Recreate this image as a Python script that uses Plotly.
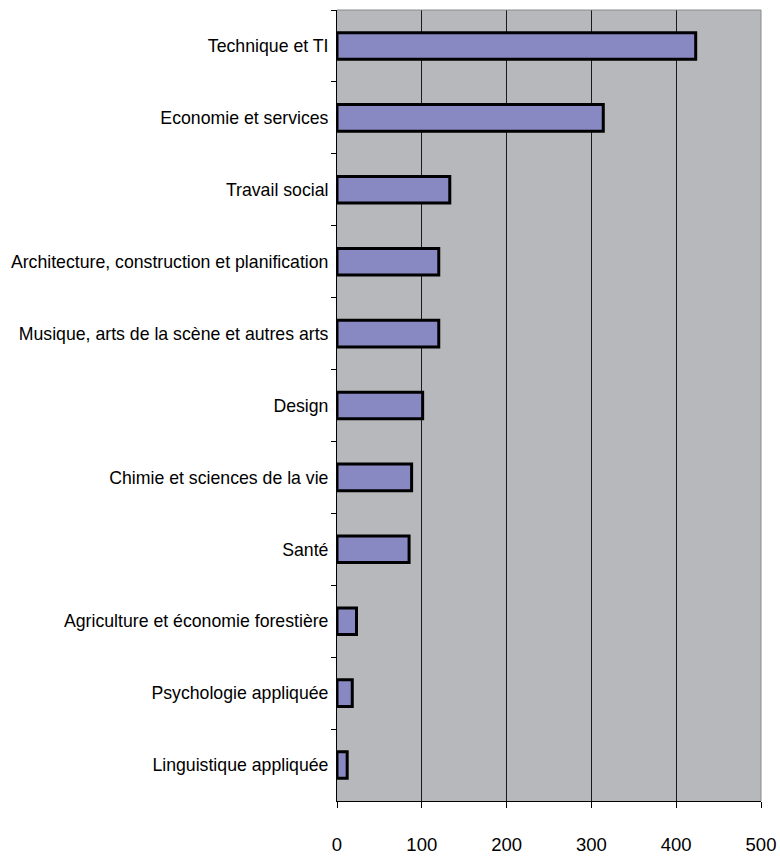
import plotly.graph_objects as go

# Filières (de haut en bas) et effectifs
categories = [
    "Technique et TI",
    "Economie et services",
    "Travail social",
    "Architecture, construction et planification",
    "Musique, arts de la scène et autres arts",
    "Design",
    "Chimie et sciences de la vie",
    "Santé",
    "Agriculture et économie forestière",
    "Psychologie appliquée",
    "Linguistique appliquée",
]
values = [423, 314, 133, 120, 120, 101, 88, 85, 23, 18, 12]
x_ticks = [0, 100, 200, 300, 400, 500]

fig = go.Figure(
    go.Bar(
        x=values,
        y=categories,
        orientation="h",
        marker=dict(color="#8889c2", line=dict(color="#000000", width=3)),
        hoverinfo="x+y",
    )
)

fig.update_layout(
    width=780,
    height=856,
    margin=dict(l=337, r=19, t=10, b=55),
    paper_bgcolor="#ffffff",
    plot_bgcolor="#b7b8bb",
    bargap=0.63,
    showlegend=False,
    font=dict(family="Liberation Sans, Arial, sans-serif", color="#000000"),
)

fig.update_xaxes(
    automargin=False,
    range=[0, 500],
    tickvals=x_ticks,
    ticktext=[str(v) for v in x_ticks],
    tickfont=dict(size=18.5),
    ticks="outside",
    ticklen=6,
    tickcolor="#000000",
    showline=True,
    linecolor="#000000",
    linewidth=1,
    showgrid=True,
    gridcolor="#1a1a1a",
    gridwidth=1,
    zeroline=False,
    ticklabelstandoff=21,
)

fig.update_yaxes(
    automargin=False,
    categoryorder="array",
    categoryarray=categories,
    autorange="reversed",
    tickson="boundaries",
    ticks="outside",
    ticklen=5,
    tickcolor="#000000",
    tickfont=dict(size=17.7),
    showline=True,
    linecolor="#000000",
    linewidth=1,
    showgrid=False,
    ticklabelstandoff=4,
)

# Cadre gris en haut et à droite de la zone de tracé
fig.add_shape(
    type="line", xref="paper", yref="paper", x0=0, x1=1, y0=1, y1=1,
    line=dict(color="#8a8a8a", width=1),
)
fig.add_shape(
    type="line", xref="paper", yref="paper", x0=1, x1=1, y0=0, y1=1,
    line=dict(color="#8a8a8a", width=1),
)

fig.write_html("out.html")
